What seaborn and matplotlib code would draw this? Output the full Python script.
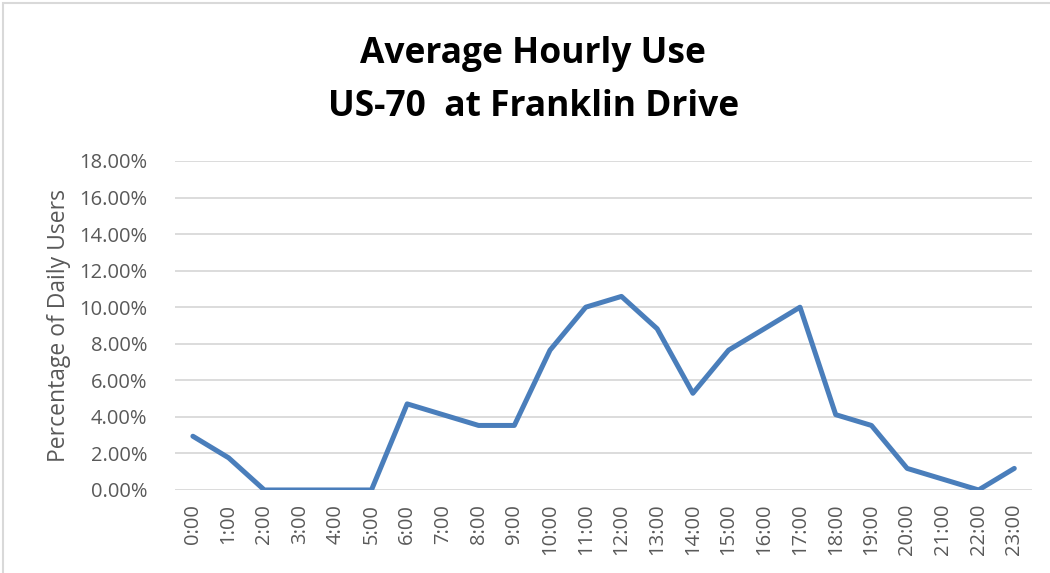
import matplotlib
matplotlib.use("Agg")
import matplotlib.pyplot as plt
import seaborn as sns
import pandas as pd
from matplotlib.ticker import PercentFormatter
from matplotlib.patches import Rectangle

# hourly share of daily users (percent)
hours = [f"{h}:00" for h in range(24)]
share = [2.94, 1.76, 0.0, 0.0, 0.0, 0.0, 4.71, 4.12, 3.53, 3.53, 7.65, 10.0,
         10.59, 8.82, 5.29, 7.65, 8.82, 10.0, 4.12, 3.53, 1.18, 0.59, 0.0, 1.18]
y_ticks = [0, 2, 4, 6, 8, 10, 12, 14, 16, 18]

df = pd.DataFrame({"hour": hours, "share": share})

sns.set_theme(style="white")
plt.rcParams['font.family'] = ['Open Sans', 'DejaVu Sans']

fig = plt.figure(figsize=(10.5, 5.73), dpi=100)
ax = fig.add_axes([0.1667, 0.1449, 0.8163, 0.5742])

sns.lineplot(data=df, x="hour", y="share", sort=False, color="#4A7EBB",
             linewidth=3.6, ax=ax, solid_capstyle="round", solid_joinstyle="round")

ax.set_xlim(-0.5, 23.5)
ax.set_ylim(0, 18)
ax.set_yticks(y_ticks)
ax.yaxis.set_major_formatter(PercentFormatter(decimals=2))
ax.grid(axis="y", color="#D9D9D9", linewidth=1.3)
ax.set_axisbelow(True)
for s in ax.spines.values():
    s.set_visible(False)
ax.tick_params(axis="both", length=0, colors="#595959", labelsize=14.5)
ax.tick_params(axis="y", pad=20)
ax.tick_params(axis="x", pad=10)
plt.setp(ax.get_xticklabels(), rotation=90)
ax.set_xlabel("")
ax.set_ylabel("Percentage of Daily Users", fontsize=16.5, color="#595959", labelpad=6)

fig.text(0.508, 0.905, "Average Hourly Use", ha="center", va="center",
         fontsize=25.5, fontweight="bold", color="black")
fig.text(0.508, 0.813, "US-70  at Franklin Drive", ha="center", va="center",
         fontsize=25.5, fontweight="bold", color="black")

# outer chart border
fig.patches.append(Rectangle((0.003, -0.01), 1.2, 1.005, transform=fig.transFigure,
                             fill=False, edgecolor="#D9D9D9", linewidth=1.5))

fig.savefig("out.png", dpi=100)
